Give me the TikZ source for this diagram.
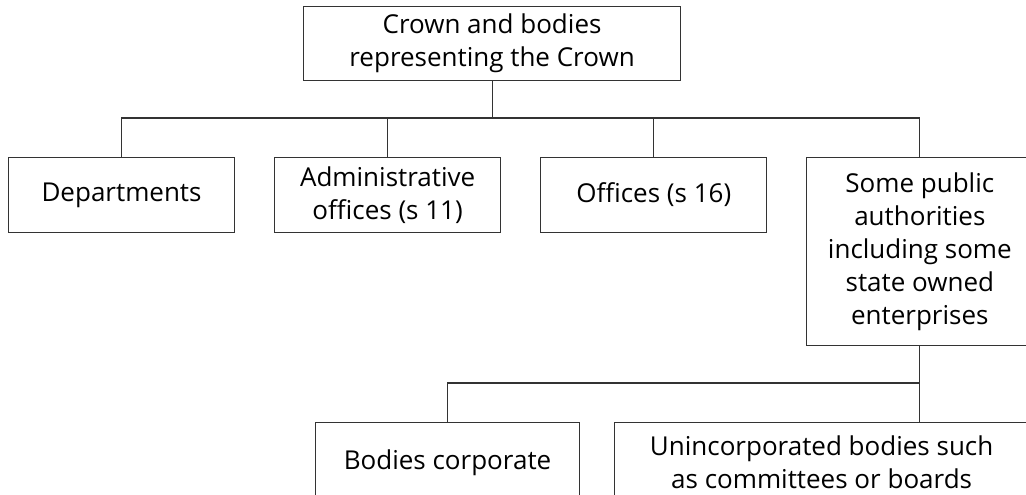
\documentclass[tikz,border=0pt]{standalone}
\usepackage{fontspec}
\setmainfont{Open Sans}
\usetikzlibrary{positioning}
\definecolor{lineGray}{HTML}{333333}

\begin{document}
\begin{tikzpicture}[
    x=1pt, y=1pt,
    % Global Styles
    node distance=39pt,
    font=\fontsize{26}{33}\selectfont,
    line width=1.1pt,
    % Node Styles
    box/.style={
        rectangle,
        draw=lineGray,
        fill=white,
        align=center,
        minimum width=226pt,
        minimum height=75pt,
        inner sep=0pt
    },
    wide/.style={
        box,
        minimum width=377pt,
        minimum height=74pt
    },
    tall/.style={
        box,
        minimum height=188pt
    },
    low/.style={
        box,
        minimum height=80pt
    },
    % Connector Style
    link/.style={
        draw=lineGray,
        line width=1.1pt
    }
]

    % --- Page frame ---
    \useasboundingbox (0,0) rectangle (1026,-495);
    \clip (0,0) rectangle (1026,-495);

    % --- Nodes ---

    % 1. Top box
    \node[wide, anchor=north west] (crown) at (303,-6) {Crown and bodies\\representing the Crown};

    % 2. Middle row
    \node[box, anchor=north west] (dept) at (8,-157) {Departments};
    \node[box, right=of dept.north east, anchor=north west] (admin) {Administrative\\offices (s 11)};
    \node[box, right=of admin.north east, anchor=north west] (offices) {Offices (s 16)};
    \node[tall, right=of offices.north east, anchor=north west] (public) {Some public\\authorities\\including some\\state owned\\enterprises};

    % 3. Bottom row
    \node[low, anchor=north west, minimum width=264pt] (bodies) at (315,-422) {Bodies corporate};
    \node[low, right=34pt of bodies.north east, anchor=north west, minimum width=414pt] (unincorp) {Unincorporated bodies such\\as committees or boards};

    % Bar heights
    \coordinate (bar) at (0,-118);
    \coordinate (lowbar) at (0,-383);

    % --- Edges ---

    % Split connections (Crown -> middle row)
    \draw[link] (crown.south) -- (crown.south |- bar);
    \draw[link] (dept.north) |- (bar -| public.north) -- (public.north);
    \draw[link] (admin.north) -- (admin.north |- bar);
    \draw[link] (offices.north) -- (offices.north |- bar);

    % Split connections (Public authorities -> bottom row)
    \draw[link] (public.south) -- (public.south |- unincorp.north);
    \draw[link] (bodies.north) |- (public.south |- lowbar);

\end{tikzpicture}
\end{document}
